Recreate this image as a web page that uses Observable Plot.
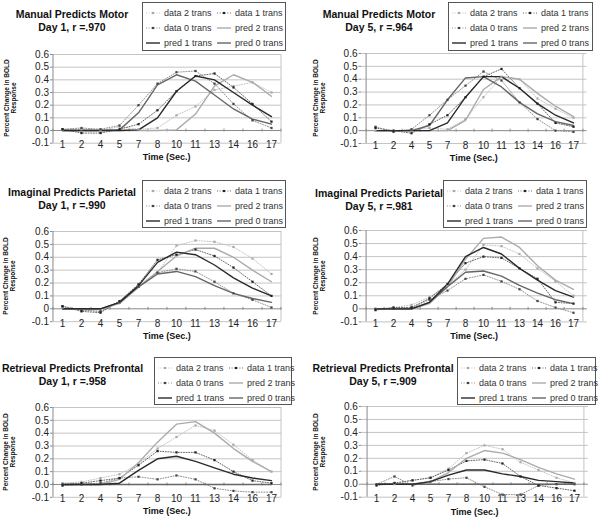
<!DOCTYPE html>
<html><head><meta charset="utf-8">
<script src="https://cdn.jsdelivr.net/npm/d3@7"></script>
<script src="https://cdn.jsdelivr.net/npm/@observablehq/plot@0.6"></script>
<style>
body{margin:0;background:#fff;font-family:"Liberation Sans",Arial,sans-serif;}
#root{position:relative;width:599px;height:518px;overflow:hidden;background:#fff}
.abs{position:absolute}
.title{font-weight:bold;font-size:10.5px;line-height:13px;text-align:center;color:#111;white-space:nowrap}
.ytitle{font-weight:bold;font-size:6.5px;line-height:7px;text-align:center;color:#111;transform:rotate(-90deg);white-space:nowrap}
.xtitle{font-weight:bold;font-size:9px;line-height:12px;text-align:center;color:#111;white-space:nowrap}
.legend{border:1px solid #555;background:#fff;box-sizing:border-box;padding:2px 0 0 3px;display:grid;grid-template-columns:71px auto;grid-auto-rows:15.3px;font-size:9px;color:#333}
.item{display:flex;align-items:center;white-space:nowrap}
.item svg{margin-right:4px;flex:none}
</style>
</head><body><div id="root"></div>
<script>
// ---- data ----
const times = ["1","2","4","5","7","8","10","11","13","14","16","17"];
const yTicks = [-0.1,0,0.1,0.2,0.3,0.4,0.5,0.6];
const yLabelsDecimal = ["-0.1","0.0","0.1","0.2","0.3","0.4","0.5","0.6"];
const yLabelsPlain = ["-0.1","0","0.1","0.2","0.3","0.4","0.5","0.6"];
const seriesNames = ["data 2 trans","data 1 trans","data 0 trans","pred 2 trans","pred 1 trans","pred 0 trans"];
const panelTitles = ["Manual Predicts Motor","Manual Predicts Motor","Imaginal Predicts Parietal","Imaginal Predicts Parietal","Retrieval Predicts Prefrontal","Retrieval Predicts Prefrontal"];
const panelSubtitles = ["Day 1, r =.970","Day 5, r =.964","Day 1, r =.990","Day 5, r =.981","Day 1, r =.958","Day 5, r =.909"];
const xTitle = "Time (Sec.)";
const yTitleLines = ["Percent Change in BOLD","Response"];

// Manual / Motor, Day 1
const motorD1Data2 = [0.005,0.01,0.0,0.03,0.01,0.02,0.12,0.19,0.32,0.35,0.38,0.30];
const motorD1Data1 = [0.01,-0.02,-0.02,0.01,0.05,0.16,0.31,0.43,0.45,0.34,0.21,0.07];
const motorD1Data0 = [0.01,0.02,0.01,0.04,0.20,0.37,0.46,0.47,0.37,0.21,0.08,0.02];
const motorD1Pred2 = [0,0,0,0,0,0,0.005,0.13,0.35,0.44,0.38,0.27];
const motorD1Pred1 = [0,0,0,0,0.005,0.10,0.31,0.43,0.40,0.30,0.20,0.11];
const motorD1Pred0 = [0,0,0,0.005,0.14,0.36,0.44,0.39,0.28,0.17,0.09,0.05];
// Manual / Motor, Day 5
const motorD5Data2 = [0,0,0.01,0.02,0.01,0.09,0.26,0.42,0.40,0.25,0.17,0.10];
const motorD5Data1 = [0.02,0,-0.02,0.05,0.12,0.26,0.42,0.48,0.33,0.21,0.06,0.03];
const motorD5Data0 = [0.03,-0.01,0.01,0.12,0.24,0.35,0.46,0.39,0.22,0.09,0.0,-0.01];
const motorD5Pred2 = [0,0,0,0,0,0.08,0.32,0.42,0.40,0.29,0.19,0.11];
const motorD5Pred1 = [0,0,0,0,0.06,0.26,0.42,0.42,0.33,0.21,0.12,0.06];
const motorD5Pred0 = [0,0,0,0.04,0.24,0.41,0.42,0.34,0.22,0.13,0.07,0.04];
// Imaginal / Parietal, Day 1
const parD1Data2 = [0.01,-0.01,-0.02,0.05,0.17,0.28,0.49,0.53,0.52,0.48,0.39,0.27];
const parD1Data1 = [0.02,-0.02,-0.03,0.06,0.19,0.38,0.42,0.46,0.41,0.32,0.21,0.10];
const parD1Data0 = [0.02,-0.01,-0.02,0.05,0.17,0.28,0.31,0.29,0.21,0.12,0.07,0.01];
const parD1Pred2 = [0,-0.005,0,0.04,0.17,0.29,0.41,0.47,0.47,0.40,0.30,0.21];
const parD1Pred1 = [0,0,0,0.05,0.18,0.36,0.44,0.42,0.34,0.24,0.16,0.10];
const parD1Pred0 = [0,0,0,0.05,0.17,0.27,0.29,0.25,0.18,0.12,0.08,0.05];
// Imaginal / Parietal, Day 5
const parD5Data2 = [0,0.01,0.03,0.09,0.18,0.30,0.49,0.48,0.42,0.31,0.21,0.10];
const parD5Data1 = [-0.01,0.01,0.01,0.08,0.19,0.35,0.40,0.39,0.31,0.23,0.05,0.04];
const parD5Data0 = [0,0,0.01,0.07,0.14,0.23,0.26,0.21,0.15,0.06,0.01,-0.03];
const parD5Pred2 = [0,0,0,0.04,0.17,0.38,0.54,0.55,0.47,0.33,0.22,0.15];
const parD5Pred1 = [0,0,0,0.05,0.19,0.40,0.47,0.42,0.31,0.22,0.14,0.09];
const parD5Pred0 = [0,0,0,0.05,0.17,0.28,0.29,0.25,0.18,0.12,0.07,0.04];
// Retrieval / Prefrontal, Day 1
const preD1Data2 = [0.01,0.02,0.05,0.08,0.16,0.28,0.37,0.46,0.42,0.31,0.19,0.10];
const preD1Data1 = [0,0.01,0.03,0.05,0.15,0.26,0.25,0.25,0.19,0.10,0.03,0.01];
const preD1Data0 = [-0.01,0,0.01,0.05,0.06,0.04,0.07,0.04,-0.03,-0.05,-0.06,-0.06];
const preD1Pred2 = [0,0,0,0.04,0.17,0.33,0.47,0.49,0.40,0.28,0.18,0.10];
const preD1Pred1 = [0,0,0,0.01,0.11,0.20,0.22,0.18,0.13,0.08,0.05,0.03];
const preD1Pred0 = [0,0,0,0,0,0,0,0,0,0,0,0];
// Retrieval / Prefrontal, Day 5
const preD5Data2 = [0,0,0.03,0.05,0.12,0.24,0.30,0.27,0.17,0.11,0.05,0.01];
const preD5Data1 = [-0.01,0.01,0.03,0.05,0.11,0.18,0.19,0.16,0.06,-0.01,-0.03,-0.05];
const preD5Data0 = [0,0.06,-0.01,0.02,0.04,0.05,-0.02,-0.08,-0.08,-0.01,0,0];
const preD5Pred2 = [0,0,0,0.02,0.09,0.20,0.26,0.24,0.19,0.13,0.08,0.04];
const preD5Pred1 = [0,0,0,0.02,0.07,0.11,0.11,0.08,0.06,0.03,0.02,0.01];
const preD5Pred0 = [0,0,0,0,0,0,0,0,0,0,0,0];

const panelSeries = [
  [motorD1Data2,motorD1Data1,motorD1Data0,motorD1Pred2,motorD1Pred1,motorD1Pred0],
  [motorD5Data2,motorD5Data1,motorD5Data0,motorD5Pred2,motorD5Pred1,motorD5Pred0],
  [parD1Data2,parD1Data1,parD1Data0,parD1Pred2,parD1Pred1,parD1Pred0],
  [parD5Data2,parD5Data1,parD5Data0,parD5Pred2,parD5Pred1,parD5Pred0],
  [preD1Data2,preD1Data1,preD1Data0,preD1Pred2,preD1Pred1,preD1Pred0],
  [preD5Data2,preD5Data1,preD5Data0,preD5Pred2,preD5Pred1,preD5Pred0]
];
const panelYLabels = [yLabelsDecimal,yLabelsDecimal,yLabelsPlain,yLabelsPlain,yLabelsDecimal,yLabelsDecimal];

// ---- styles ----
const seriesStyle = [
  {kind:"data", stroke:"#bdbdbd", fill:"#a8a8a8"},
  {kind:"data", stroke:"#555555", fill:"#222222"},
  {kind:"data", stroke:"#858585", fill:"#444444"},
  {kind:"pred", stroke:"#ababab"},
  {kind:"pred", stroke:"#2a2a2a"},
  {kind:"pred", stroke:"#666666"}
];

// ---- layout ----
const layouts = [
  {px:0,  pw:300, fx0:52.5, fx1:280.8, fy0:54,  fy1:142.7, tx:72,  ty:14,  lg:[142,2,144,49],   yc:10},
  {px:300,pw:299, fx0:361,  fx1:586.5, fy0:53,  fy1:143,   tx:379, ty:14,  lg:[448,2,145,49],   yc:319},
  {px:0,  pw:300, fx0:52.5, fx1:281.2, fy0:231, fy1:321.2, tx:72,  ty:192, lg:[142,180,144,48], yc:9},
  {px:300,pw:299, fx0:361.3,fx1:586.9, fy0:230, fy1:321.4, tx:379, ty:193, lg:[443,180,144,48], yc:319},
  {px:0,  pw:300, fx0:52.5, fx1:281.2, fy0:407, fy1:496.8, tx:72.5,ty:368, lg:[154,357,138,48], yc:9},
  {px:300,pw:299, fx0:361.3,fx1:587.9, fy0:406.3,fy1:497,  tx:383, ty:368, lg:[457,357,139,48], yc:319}
];

const root = document.getElementById("root");
const MT = 8, MB = 14;

function swatch(si){
  const s = seriesStyle[si];
  const ns = "http://www.w3.org/2000/svg";
  const svg = document.createElementNS(ns,"svg");
  svg.setAttribute("width",14); svg.setAttribute("height",8);
  const l = document.createElementNS(ns,"line");
  l.setAttribute("x1",0); l.setAttribute("x2",14); l.setAttribute("y1",4); l.setAttribute("y2",4);
  l.setAttribute("stroke",s.stroke);
  if (s.kind==="data"){ l.setAttribute("stroke-dasharray","1,1.6"); l.setAttribute("stroke-width",0.9); }
  else l.setAttribute("stroke-width",1.4);
  svg.appendChild(l);
  if (s.kind==="data"){
    const r = document.createElementNS(ns,"rect");
    r.setAttribute("x",5.9); r.setAttribute("y",2.9); r.setAttribute("width",2.2); r.setAttribute("height",2.2);
    r.setAttribute("fill",s.fill); svg.appendChild(r);
  }
  return svg;
}

layouts.forEach((L, p) => {
  const series = panelSeries[p];
  const rows = [];
  series.forEach((vals, si) => vals.forEach((v, i) => rows.push({s: si, t: times[i], v})));
  const step = (L.fx1 - L.fx0) / times.length;
  const labels = panelYLabels[p];
  const marks = [
    Plot.ruleY(yTicks.filter(d => d !== 0), {y: d => d, stroke: "#c4c4c4", strokeWidth: 1}),
    Plot.ruleX([times[times.length-1]], {x: d => d, dx: step/2, stroke: "#c4c4c4"}),
    Plot.ruleY([0], {y: d => d, stroke: "#8a8a8a", strokeWidth: 1}),
    Plot.ruleX(times, {x: d => d, dx: -step/2, y1: -0.011, y2: 0.011, stroke: "#8a8a8a"}),
    Plot.ruleX([times[times.length-1]], {x: d => d, dx: step/2, y1: -0.011, y2: 0.011, stroke: "#8a8a8a"}),
    Plot.ruleX([times[0]], {x: d => d, dx: -step/2, stroke: "#8a8a8a"}),
    Plot.axisY({ticks: yTicks, tickSize: 2.5, tickPadding: 1.5, label: null, stroke: "#8a8a8a",
      tickFormat: d => labels[yTicks.findIndex(t => Math.abs(t - d) < 1e-9)], fill: "#222"}),
    Plot.axisX({tickSize: 0, tickPadding: -2, label: null, fill: "#222"})
  ];
  [0,1,2].forEach(si => {
    marks.push(Plot.line(rows.filter(r => r.s === si), {x: "t", y: "v", stroke: seriesStyle[si].stroke, strokeWidth: 0.9, strokeDasharray: "1,1.6"}));
  });
  [3,5,4].forEach(si => {
    marks.push(Plot.line(rows.filter(r => r.s === si), {x: "t", y: "v", stroke: seriesStyle[si].stroke, strokeWidth: 1.4}));
  });
  [0,2,1].forEach(si => {
    marks.push(Plot.dot(rows.filter(r => r.s === si), {x: "t", y: "v", symbol: "square", r: 1.25, fill: seriesStyle[si].fill, stroke: "none"}));
  });

  const svg = Plot.plot({
    width: L.pw,
    height: (L.fy1 - L.fy0) + MT + MB,
    marginLeft: L.fx0 - L.px,
    marginRight: L.px + L.pw - L.fx1,
    marginTop: MT,
    marginBottom: MB,
    x: {type: "point", domain: times, padding: 0.5},
    y: {domain: [-0.1, 0.6]},
    style: {fontFamily: "'Liberation Sans', Arial, sans-serif", fontSize: "10px", color: "#222", background: "transparent", overflow: "visible"},
    marks
  });
  svg.classList.add("abs");
  svg.style.left = L.px + "px";
  svg.style.top = (L.fy0 - MT) + "px";
  root.appendChild(svg);

  const t = document.createElement("div");
  t.className = "abs title";
  t.style.left = (L.tx - 100) + "px"; t.style.width = "200px";
  t.style.top = (L.ty - 6.5) + "px";
  t.innerHTML = panelTitles[p] + "<br>" + panelSubtitles[p];
  root.appendChild(t);

  const W = 130, H = 14;
  const yt = document.createElement("div");
  yt.className = "abs ytitle";
  yt.style.width = W + "px"; yt.style.height = H + "px";
  yt.style.left = (L.yc - W/2) + "px";
  yt.style.top = ((L.fy0 + L.fy1)/2 - H/2) + "px";
  yt.innerHTML = yTitleLines[0] + "<br>" + yTitleLines[1];
  root.appendChild(yt);

  const xt = document.createElement("div");
  xt.className = "abs xtitle";
  xt.style.left = ((L.fx0 + L.fx1)/2 - 60) + "px"; xt.style.width = "120px";
  xt.style.top = (L.fy1 + 8.5) + "px";
  xt.textContent = xTitle;
  root.appendChild(xt);

  const lg = document.createElement("div");
  lg.className = "abs legend";
  lg.style.left = L.lg[0] + "px"; lg.style.top = L.lg[1] + "px";
  lg.style.width = L.lg[2] + "px"; lg.style.height = L.lg[3] + "px";
  seriesNames.forEach((name, si) => {
    const it = document.createElement("div");
    it.className = "item";
    it.appendChild(swatch(si));
    const sp = document.createElement("span");
    sp.textContent = name;
    it.appendChild(sp);
    lg.appendChild(it);
  });
  root.appendChild(lg);
});
</script>
</body></html>
